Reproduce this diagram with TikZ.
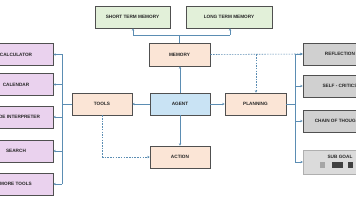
\documentclass[tikz,border=0pt]{standalone}
\usepackage{fontspec}
\setmainfont{Liberation Sans}
\usetikzlibrary{arrows.meta}
\definecolor{gfill}{HTML}{E2F0D9}
\definecolor{pfill}{HTML}{FBE5D6}
\definecolor{bfill}{HTML}{C9E3F4}
\definecolor{vfill}{HTML}{EAD2EE}
\definecolor{rfill}{HTML}{D0D0D0}
\definecolor{sfill}{HTML}{DBDBDB}
\definecolor{lcol}{HTML}{5B8DB3}
\definecolor{bcol}{HTML}{505050}
\tikzset{
  box/.style={draw=bcol, line width=0.7pt, inner sep=0pt, minimum height=22pt,
    font=\fontsize{4.7}{5}\selectfont\bfseries, text=black!85},
  green/.style={box, fill=gfill},
  peach/.style={box, fill=pfill, minimum width=60pt},
  blue/.style={box, fill=bfill, minimum width=60pt},
  violet/.style={box, fill=vfill, minimum width=74pt},
  grey/.style={box, fill=rfill, minimum width=74pt},
  conn/.style={draw=lcol, line width=0.6pt, -{Stealth[length=2.4pt,width=2.4pt]}},
  link/.style={draw=lcol, line width=0.6pt},
  dconn/.style={conn, dashed, dash pattern=on 1.5pt off 1.2pt},
  dlink/.style={link, dashed, dash pattern=on 1.5pt off 1.2pt},
}
\begin{document}
\begin{tikzpicture}[x=1pt,y=-1pt]
\useasboundingbox (0,0) rectangle (356,200);
\fill[white] (0,0) rectangle (356,200);
% top memories
\node[green, minimum width=75pt] (stm) at (132.5,17) {SHORT TERM MEMORY};
\node[green, minimum width=86pt] (ltm) at (229,17) {LONG TERM MEMORY};
% central
\node[peach, minimum width=61pt, minimum height=23pt] (mem) at (179.5,54.5) {MEMORY};
\node[blue] (agent) at (180,104) {AGENT};
\node[peach] (tools) at (102,104) {TOOLS};
\node[peach, minimum width=61pt] (plan) at (255.5,104) {PLANNING};
\node[peach] (action) at (180,157) {ACTION};
% left tools
\node[violet] (calc) at (16,54.5) {CALCULATOR};
\node[violet] (cal) at (16,84.5) {CALENDAR};
\node[violet] (code) at (16,117) {CODE INTERPRETER};
\node[violet] (search) at (16,151) {SEARCH};
\node[violet] (more) at (16,184) {MORE TOOLS};
% right planning
\node[grey] (refl) at (340,54) {REFLECTION};
\node[grey] (crit) at (340,86) {SELF - CRITICS};
\node[grey] (cot) at (340,121) {CHAIN OF THOUGHTS};
\node[box, draw=sfill!80!black, line width=0.3pt, fill=sfill, minimum width=74pt, minimum height=24pt] (sub) at (340,162) {};
\node[font=\fontsize{4.7}{5}\selectfont\bfseries, text=black!85, inner sep=0pt] (subt) at (340,157) {SUB GOAL};
\fill[gray!70] (320,162) rectangle (325,168);
\fill[black!75] (332,162) rectangle (343,168);
\fill[black!75] (348,162) rectangle (353,168);
% memory to stores
\coordinate (mj) at (mem.north |- 0,35);
\draw[link] (mem.north) -- (mj);
\draw[link] (mj) -- (133,35);
\draw[conn] (133,35) -- (stm.south -| 133,0);
\draw[link] (mj) -- (230,35);
\draw[conn] (230,35) -- (ltm.south -| 230,0);
% agent connections
\draw[conn] (agent.north) -- (mem.south -| agent.north);
\draw[conn] (agent.west) -- (tools.east);
\draw[conn] (agent.east) -- (plan.west);
\draw[conn] (agent.south) -- (action.north);
% left bus
\coordinate (lb) at (62,104);
\draw[link] (tools.west) -- (lb);
\draw[link] (62,54.5) -- (62,184);
\foreach \n in {calc,cal,code,search,more} \draw[conn] (62,0 |- \n.east) -- (\n.east);
% right bus
\coordinate (rb) at (295,104);
\draw[link] (plan.east) -- (rb);
\draw[link] (295,54) -- (295,162);
\foreach \n in {refl,crit,cot,sub} \draw[conn] (295,0 |- \n.west) -- (\n.west);
% dashed
\draw[dconn] (mem.east) -- (refl.west);
\coordinate (dj) at (256,54.5);
\draw[dconn] (dj) -- (plan.north -| dj);
\coordinate (tc) at (tools.south |- action.west);
\draw[dlink] (tools.south) -- (tc);
\draw[dconn] (tc) -- (action.west);
\end{tikzpicture}
\end{document}
